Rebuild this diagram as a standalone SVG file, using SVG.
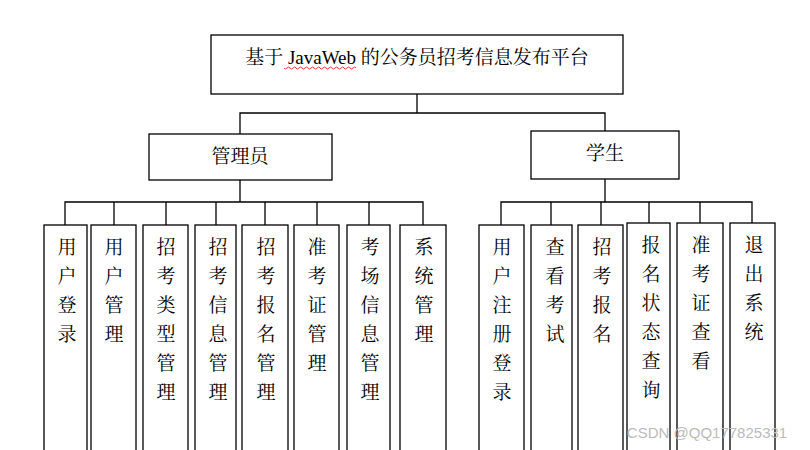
<svg xmlns="http://www.w3.org/2000/svg" width="810" height="450" viewBox="0 0 810 450">
<style>
rect{fill:#fff;stroke:#000;stroke-width:1.3}
.c path{fill:none;stroke:#000;stroke-width:1.3}
text{font-family:"Liberation Serif","Noto Serif CJK SC","Noto Sans CJK SC",serif;fill:#000;text-anchor:middle}
.v{font-size:19px}
.h{font-size:19px}
</style>
<rect x="0" y="0" width="810" height="450" style="stroke:none"/>
<g class="c">
<path d="M417 94V113M240 134V113H605V131"/>
<path d="M240 180V202M65 225V202H423V225M114 202V225M166 202V225M216 202V225M265 202V225M317 202V225M369 202V225"/>
<path d="M605 179V202M501 225V202H752V223M551 202V225M601 202V225M649 202V223M700 202V223"/>
</g>
<g id="title"><rect x="211" y="35" width="412" height="59"/><text class="h" x="417" y="64">基于 JavaWeb 的公务员招考信息发布平台</text><path d="M284 68q1.5 2 3-0t3 0 3 0 3 0 3 0 3 0 3 0 3 0 3 0 3 0 3 0 3 0 3 0 3 0 3 0 3 0 3 0 3 0 3 0 3 0 3 0 3 0 3 0 3 0" fill="none" stroke="#e00" stroke-width="0.8"/></g>
<g id="admin"><rect x="149" y="134" width="183" height="46"/><text class="h" x="240" y="163">管理员</text></g>
<g id="student"><rect x="531" y="131" width="148" height="48"/><text class="h" x="605" y="160">学生</text></g>
<g id="a1"><rect x="44" y="225" width="43" height="240"/><text class="v" x="67"><tspan x="67" y="254">用</tspan><tspan x="67" dy="29">户</tspan><tspan x="67" dy="29">登</tspan><tspan x="67" dy="29">录</tspan></text></g>
<g id="a2"><rect x="91" y="225" width="45" height="240"/><text class="v" x="114"><tspan x="114" y="254">用</tspan><tspan x="114" dy="29">户</tspan><tspan x="114" dy="29">管</tspan><tspan x="114" dy="29">理</tspan></text></g>
<g id="a3"><rect x="143" y="225" width="45" height="240"/><text class="v"><tspan x="166" y="254">招</tspan><tspan x="166" dy="29">考</tspan><tspan x="166" dy="29">类</tspan><tspan x="166" dy="29">型</tspan><tspan x="166" dy="29">管</tspan><tspan x="166" dy="29">理</tspan></text></g>
<g id="a4"><rect x="195" y="225" width="41" height="240"/><text class="v"><tspan x="218" y="254">招</tspan><tspan x="218" dy="29">考</tspan><tspan x="218" dy="29">信</tspan><tspan x="218" dy="29">息</tspan><tspan x="218" dy="29">管</tspan><tspan x="218" dy="29">理</tspan></text></g>
<g id="a5"><rect x="242" y="225" width="46" height="240"/><text class="v"><tspan x="266" y="254">招</tspan><tspan x="266" dy="29">考</tspan><tspan x="266" dy="29">报</tspan><tspan x="266" dy="29">名</tspan><tspan x="266" dy="29">管</tspan><tspan x="266" dy="29">理</tspan></text></g>
<g id="a6"><rect x="294" y="225" width="45" height="240"/><text class="v"><tspan x="317" y="254">准</tspan><tspan x="317" dy="29">考</tspan><tspan x="317" dy="29">证</tspan><tspan x="317" dy="29">管</tspan><tspan x="317" dy="29">理</tspan></text></g>
<g id="a7"><rect x="347" y="225" width="43" height="240"/><text class="v"><tspan x="370" y="254">考</tspan><tspan x="370" dy="29">场</tspan><tspan x="370" dy="29">信</tspan><tspan x="370" dy="29">息</tspan><tspan x="370" dy="29">管</tspan><tspan x="370" dy="29">理</tspan></text></g>
<g id="a8"><rect x="400" y="225" width="46" height="240"/><text class="v"><tspan x="424" y="254">系</tspan><tspan x="424" dy="29">统</tspan><tspan x="424" dy="29">管</tspan><tspan x="424" dy="29">理</tspan></text></g>
<g id="s1"><rect x="479" y="225" width="45" height="240"/><text class="v"><tspan x="502" y="254">用</tspan><tspan x="502" dy="29">户</tspan><tspan x="502" dy="29">注</tspan><tspan x="502" dy="29">册</tspan><tspan x="502" dy="29">登</tspan><tspan x="502" dy="29">录</tspan></text></g>
<g id="s2"><rect x="531" y="225" width="41" height="240"/><text class="v"><tspan x="555" y="254">查</tspan><tspan x="555" dy="29">看</tspan><tspan x="555" dy="29">考</tspan><tspan x="555" dy="29">试</tspan></text></g>
<g id="s3"><rect x="578" y="225" width="45" height="240"/><text class="v"><tspan x="602" y="254">招</tspan><tspan x="602" dy="29">考</tspan><tspan x="602" dy="29">报</tspan><tspan x="602" dy="29">名</tspan></text></g>
<g id="s4"><rect x="627" y="223" width="43" height="240"/><text class="v"><tspan x="651" y="252">报</tspan><tspan x="651" dy="29">名</tspan><tspan x="651" dy="29">状</tspan><tspan x="651" dy="29">态</tspan><tspan x="651" dy="29">查</tspan><tspan x="651" dy="29">询</tspan></text></g>
<g id="s5"><rect x="677" y="223" width="46" height="240"/><text class="v"><tspan x="701" y="252">准</tspan><tspan x="701" dy="29">考</tspan><tspan x="701" dy="29">证</tspan><tspan x="701" dy="29">查</tspan><tspan x="701" dy="29">看</tspan></text></g>
<g id="s6"><rect x="730" y="223" width="45" height="240"/><text class="v"><tspan x="754" y="252">退</tspan><tspan x="754" dy="29">出</tspan><tspan x="754" dy="29">系</tspan><tspan x="754" dy="29">统</tspan></text></g>
<text x="707" y="438" style="font-family:'Liberation Sans',sans-serif;font-size:15px;fill:#bbb">CSDN @QQ177825331</text>
</svg>
